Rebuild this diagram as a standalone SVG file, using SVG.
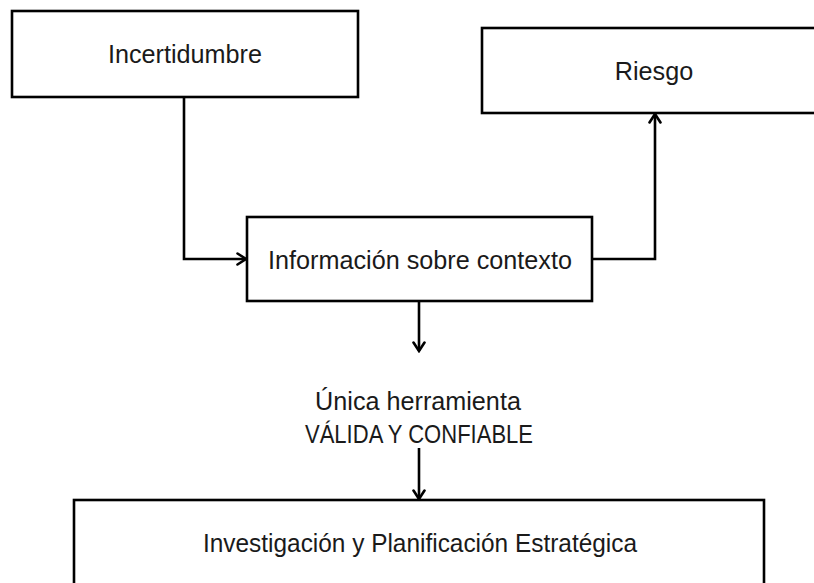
<svg xmlns="http://www.w3.org/2000/svg" width="814" height="583" viewBox="0 0 814 583">
<defs>
<style>
.box{fill:#fff;stroke:#000;stroke-width:2.6}
.lbl{font-family:"Liberation Sans",Arial,sans-serif;font-size:25.2px;fill:#1a1a1a;text-anchor:middle}
.con{fill:none;stroke:#000;stroke-width:2.6;marker-end:url(#arr)}
</style>
<marker id="arr" viewBox="0 0 12 14" refX="10.5" refY="7" markerWidth="12" markerHeight="14" markerUnits="userSpaceOnUse" orient="auto">
<path d="M2,1.5 L10.5,7 L2,12.5" fill="none" stroke="#000" stroke-width="2.6" stroke-linecap="round" stroke-linejoin="miter"/>
</marker>
</defs>
<rect width="814" height="583" fill="#fff"/>
<g id="connectors">
<path class="con" d="M184,97 V259 H246"/>
<path class="con" d="M592,259 H655 V114"/>
<path class="con" d="M419,302 V351"/>
<path class="con" d="M419,448 V499"/>
</g>
<g id="incertidumbre">
<rect class="box" x="12" y="11" width="346" height="86"/>
<text class="lbl" x="185" y="63">Incertidumbre</text>
</g>
<g id="riesgo">
<rect class="box" x="482" y="28" width="340" height="85"/>
<text class="lbl" x="654" y="80">Riesgo</text>
</g>
<g id="informacion">
<rect class="box" x="247" y="217" width="345" height="84"/>
<text class="lbl" x="420" y="269">Información sobre contexto</text>
</g>
<g id="herramienta">
<text class="lbl" x="418" y="410">Única herramienta</text>
<text class="lbl" x="419" y="443" textLength="228" lengthAdjust="spacingAndGlyphs">VÁLIDA Y CONFIABLE</text>
</g>
<g id="investigacion">
<rect class="box" x="74" y="500" width="690" height="100"/>
<text class="lbl" x="420" y="552" textLength="434" lengthAdjust="spacingAndGlyphs">Investigación y Planificación Estratégica</text>
</g>
</svg>
